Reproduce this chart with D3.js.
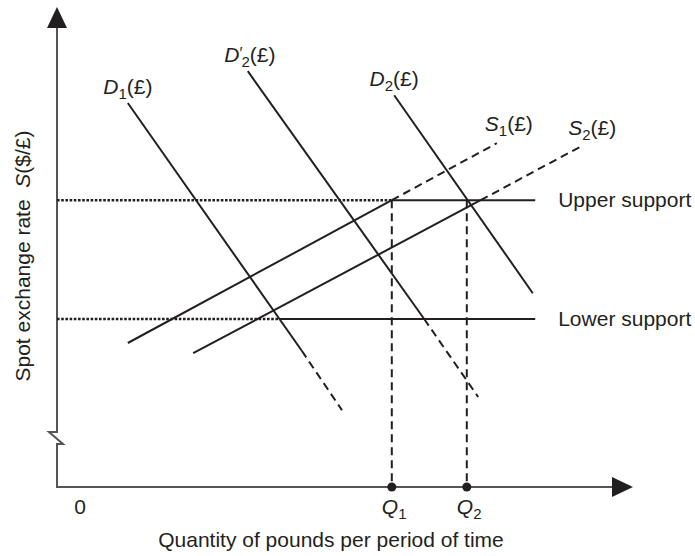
<!DOCTYPE html>
<html lang="en">
<head>
    <meta charset="UTF-8">
    <script src="https://d3js.org/d3.v7.min.js"></script>
    <title>Exchange rate target zone</title>
    <style>
        body {
            margin: 0;
            background: #fff;
        }
        text {
            font-family: "Liberation Sans", Arial, Helvetica, sans-serif;
            font-size: 21px;
            fill: #231f20;
        }
        .curve {
            fill: none;
            stroke: #231f20;
            stroke-width: 2;
        }
        .dashed {
            stroke-dasharray: 8 5;
        }
        .dotted {
            stroke-width: 2.6;
            stroke-dasharray: 2.6 1.6;
        }
        .axis-line {
            fill: none;
            stroke: #555;
            stroke-width: 2;
        }
    </style>
</head>
<body>
<div id="chart"></div>
<script>
    // chart values (abstract units: quantity across, rate up)
    const xMax = 96, yMax = 80;
    const demandCurves = [
        { name: "D", prime: false, sub: "1", solid: [[11.8, 64], [40.8, 22.7]], dashed: [[40.8, 22.7], [47.5, 12.8]] },
        { name: "D", prime: true, sub: "2", solid: [[31.8, 69.3], [61.2, 28]], dashed: [[61.2, 28], [70.2, 15]] },
        { name: "D", prime: false, sub: "2", solid: [[56.2, 65.3], [79.3, 32.3]], dashed: [] }
    ];
    const supplyCurves = [
        { name: "S", sub: "1", solid: [[11.8, 24], [55.8, 47.8]], dashed: [[55.8, 47.8], [73.3, 57.3]] },
        { name: "S", sub: "2", solid: [[22.7, 22.3], [70.6, 47.8]], dashed: [[70.6, 47.8], [87.2, 56.7]] }
    ];
    const supports = [
        { label: "Upper support", rate: 47.8, solidFrom: 55.8, solidTo: 79.7 },
        { label: "Lower support", rate: 28, solidFrom: 37.1, solidTo: 79.7 }
    ];
    const quantities = [
        { sub: "1", q: 55.8, rate: 47.8 },
        { sub: "2", q: 68.3, rate: 47.8 }
    ];
    const xTitle = "Quantity of pounds per period of time";

    const W = 695, H = 556;
    const x = d3.scaleLinear().domain([0, xMax]).range([57, 633]);
    const y = d3.scaleLinear().domain([0, yMax]).range([487, 7]);

    const svg = d3.select("#chart").append("svg")
        .attr("width", W)
        .attr("height", H);

    const line = d3.line().x(d => x(d[0])).y(d => y(d[1]));

    // axes with break on the vertical one
    const x0 = x(0), y0 = y(0);
    svg.append("path")
        .attr("class", "axis-line")
        .attr("d", `M${x0},${y(yMax) + 20} V432 H${x0 - 8} L${x0 + 6},444 H${x0} V${y0} H${x(xMax) - 20}`);
    svg.append("path")
        .attr("fill", "#231f20")
        .attr("d", `M${x0},${y(yMax)} L${x0 - 10},${y(yMax) + 21} L${x0 + 10},${y(yMax) + 21} Z`);
    svg.append("path")
        .attr("fill", "#231f20")
        .attr("d", `M${x(xMax)},${y0} L${x(xMax) - 21},${y0 - 10} L${x(xMax) - 21},${y0 + 10} Z`);

    // support levels: dotted from the axis, then solid
    supports.forEach(s => {
        svg.append("path").attr("class", "curve dotted")
            .attr("d", line([[0, s.rate], [s.solidFrom, s.rate]]));
        svg.append("path").attr("class", "curve")
            .attr("d", line([[s.solidFrom, s.rate], [s.solidTo, s.rate]]));
        svg.append("text")
            .attr("x", x(s.solidTo) + 23)
            .attr("y", y(s.rate) + 7)
            .text(s.label);
    });

    // quantity drop lines and dots
    quantities.forEach(d => {
        svg.append("path").attr("class", "curve dashed")
            .attr("d", line([[d.q, d.rate], [d.q, 0]]));
        svg.append("circle")
            .attr("cx", x(d.q)).attr("cy", y(0)).attr("r", 4.5)
            .attr("fill", "#231f20");
        const t = svg.append("text")
            .attr("x", x(d.q) - 10).attr("y", 514);
        t.append("tspan").attr("font-style", "italic").text("Q");
        t.append("tspan").attr("font-size", 15).attr("dy", 5).text(d.sub);
    });

    function drawCurve(c) {
        svg.append("path").attr("class", "curve").attr("d", line(c.solid));
        if (c.dashed.length) {
            svg.append("path").attr("class", "curve dashed").attr("d", line(c.dashed));
        }
    }

    demandCurves.forEach(c => {
        drawCurve(c);
        const start = c.solid[0];
        const t = svg.append("text")
            .attr("x", x(start[0]) + (c.prime ? 2 : 0))
            .attr("y", y(start[1]) - 9)
            .attr("text-anchor", "middle");
        t.append("tspan").attr("font-style", "italic").text(c.name);
        if (c.prime) {
            t.append("tspan").attr("font-size", 16).attr("dy", -3).text("\u2032");
            t.append("tspan").attr("font-size", 15).attr("dx", -1).attr("dy", 8).text(c.sub);
        } else {
            t.append("tspan").attr("font-size", 15).attr("dy", 5).text(c.sub);
        }
        t.append("tspan").attr("dy", -5).text("(\u00a3)");
    });

    supplyCurves.forEach(c => {
        drawCurve(c);
        const end = c.dashed[c.dashed.length - 1];
        const t = svg.append("text")
            .attr("x", x(end[0]) + 12)
            .attr("y", y(end[1]) - 12)
            .attr("text-anchor", "middle");
        t.append("tspan").attr("font-style", "italic").text(c.name);
        t.append("tspan").attr("font-size", 15).attr("dy", 5).text(c.sub);
        t.append("tspan").attr("dy", -5).text("(\u00a3)");
    });

    // origin and axis titles
    svg.append("text").attr("x", 80).attr("y", 514).attr("text-anchor", "middle").text("0");
    svg.append("text").attr("x", 331).attr("y", 547).attr("text-anchor", "middle").text(xTitle);

    const yt = svg.append("text")
        .attr("transform", "translate(30,256) rotate(-90)")
        .attr("text-anchor", "middle");
    yt.append("tspan").text("Spot exchange rate\u00a0 ");
    yt.append("tspan").attr("font-style", "italic").text("S");
    yt.append("tspan").text("($/\u00a3)");
</script>
</body>
</html>
